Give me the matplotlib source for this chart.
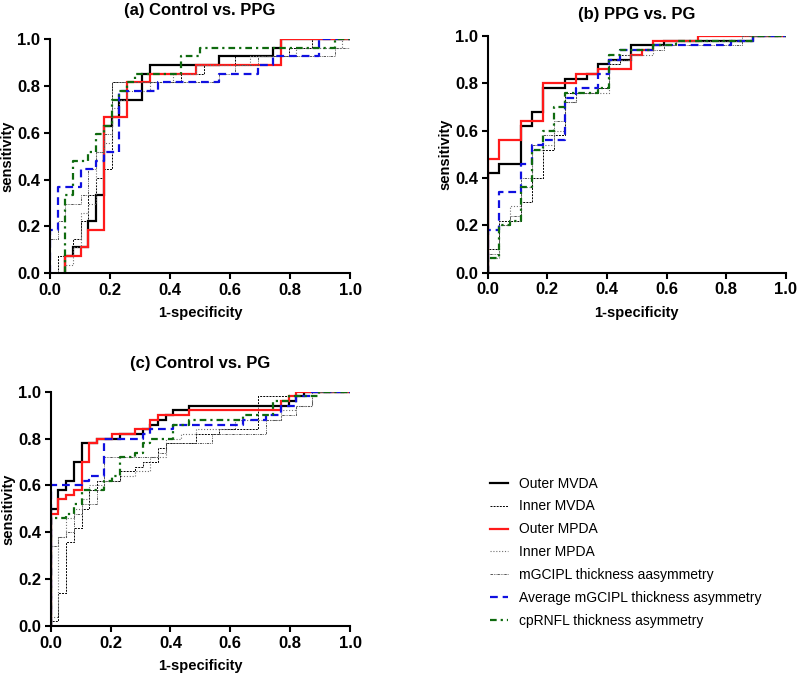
# -*- coding: utf-8 -*-

"""
ROC curves of the vessel density / thickness asymmetry parameters
"""

import matplotlib
matplotlib.use('Agg')
import matplotlib.pyplot as plt


plt.rcParams['font.family'] = ['Liberation Sans', 'DejaVu Sans']

# =============================================================================
# Data (fpr, tpr) staircase vertices
# =============================================================================
LABELS = ['Outer MVDA', 'Inner MVDA', 'Outer MPDA', 'Inner MPDA',
          'mGCIPL thickness aasymmetry', 'Average mGCIPL thickness asymmetry',
          'cpRNFL thickness asymmetry']
TITLES = ['(a) Control vs. PPG', '(b) PPG vs. PG', '(c) Control vs. PG']

# (a) Control vs. PPG
a_outer_mvda = ([0.051, 0.051, 0.077, 0.128, 0.154, 0.179, 0.205, 0.231, 0.308, 0.333, 0.564, 0.744, 0.769, 1.0],
                [0, 0.074, 0.111, 0.222, 0.333, 0.630, 0.667, 0.741, 0.852, 0.889, 0.926, 0.963, 1.0, 1.0])
a_inner_mvda = ([0.026, 0.026, 0.077, 0.103, 0.128, 0.154, 0.179, 0.205, 0.436, 0.513, 0.615, 0.795, 0.872, 1.0],
                [0, 0.074, 0.148, 0.222, 0.333, 0.407, 0.444, 0.815, 0.852, 0.889, 0.926, 0.963, 1.0, 1.0])
a_outer_mpda = ([0.051, 0.051, 0.103, 0.128, 0.179, 0.256, 0.333, 0.487, 0.769, 1.0],
                [0, 0.074, 0.111, 0.185, 0.667, 0.815, 0.852, 0.889, 1.0, 1.0])
a_inner_mpda = ([0.051, 0.051, 0.077, 0.103, 0.128, 0.154, 0.179, 0.205, 0.231, 0.256, 0.333, 0.410, 0.487, 0.667, 0.821, 0.974, 1.0],
                [0, 0.037, 0.111, 0.259, 0.296, 0.519, 0.556, 0.704, 0.741, 0.778, 0.815, 0.852, 0.889, 0.926, 0.963, 1.0, 1.0])
a_mgcipl = ([0, 0, 0.026, 0.051, 0.103, 0.128, 0.154, 0.179, 0.205, 0.564, 0.615, 0.692, 0.949, 1.0],
            [0, 0.148, 0.222, 0.296, 0.333, 0.444, 0.519, 0.593, 0.815, 0.852, 0.889, 0.926, 0.963, 1.0])
a_avg_mgcipl = ([0, 0, 0.026, 0.103, 0.154, 0.179, 0.231, 0.359, 0.564, 0.692, 0.744, 0.897, 1.0],
                [0, 0.185, 0.370, 0.444, 0.481, 0.519, 0.778, 0.815, 0.852, 0.889, 0.926, 1.0, 1.0])
a_cprnfl = ([0.051, 0.051, 0.077, 0.128, 0.154, 0.179, 0.205, 0.231, 0.256, 0.282, 0.436, 0.500, 0.949, 1.0],
            [0, 0.333, 0.481, 0.519, 0.593, 0.630, 0.741, 0.778, 0.815, 0.852, 0.926, 0.963, 1.0, 1.0])

# (b) PPG vs. PG
b_outer_mvda = ([0, 0, 0.037, 0.111, 0.148, 0.185, 0.259, 0.333, 0.370, 0.407, 0.481, 0.593, 0.889, 1.0],
                [0, 0.42, 0.46, 0.62, 0.68, 0.78, 0.82, 0.84, 0.88, 0.90, 0.96, 0.98, 1.0, 1.0])
b_inner_mvda = ([0, 0, 0.037, 0.111, 0.148, 0.185, 0.222, 0.259, 0.370, 0.407, 0.444, 0.481, 0.593, 0.889, 1.0],
                [0, 0.10, 0.22, 0.30, 0.40, 0.52, 0.58, 0.76, 0.78, 0.88, 0.92, 0.96, 0.98, 1.0, 1.0])
b_outer_mpda = ([0, 0, 0.037, 0.111, 0.185, 0.296, 0.370, 0.481, 0.519, 0.556, 0.704, 1.0],
                [0, 0.48, 0.56, 0.64, 0.80, 0.84, 0.86, 0.92, 0.94, 0.98, 1.0, 1.0])
b_inner_mpda = ([0, 0, 0.037, 0.074, 0.111, 0.148, 0.185, 0.222, 0.259, 0.296, 0.407, 0.444, 0.556, 0.630, 0.889, 1.0],
                [0, 0.06, 0.20, 0.28, 0.36, 0.52, 0.54, 0.60, 0.72, 0.76, 0.88, 0.92, 0.96, 0.98, 1.0, 1.0])
b_mgcipl = ([0, 0, 0.037, 0.074, 0.111, 0.148, 0.185, 0.222, 0.259, 0.296, 0.370, 0.407, 0.481, 0.593, 0.852, 1.0],
            [0, 0.08, 0.20, 0.24, 0.40, 0.54, 0.58, 0.64, 0.72, 0.76, 0.78, 0.90, 0.94, 0.96, 1.0, 1.0])
b_avg_mgcipl = ([0, 0, 0.037, 0.111, 0.148, 0.185, 0.259, 0.296, 0.370, 0.407, 0.444, 0.556, 0.815, 0.889, 1.0],
                [0, 0.18, 0.34, 0.46, 0.54, 0.56, 0.74, 0.78, 0.84, 0.90, 0.94, 0.96, 0.98, 1.0, 1.0])
b_cprnfl = ([0, 0, 0.037, 0.074, 0.111, 0.148, 0.185, 0.222, 0.259, 0.370, 0.407, 0.444, 0.556, 0.630, 0.889, 1.0],
            [0, 0.06, 0.20, 0.22, 0.36, 0.52, 0.60, 0.70, 0.76, 0.78, 0.92, 0.94, 0.96, 0.98, 1.0, 1.0])

# (c) Control vs. PG
c_outer_mvda = ([0, 0, 0.026, 0.051, 0.077, 0.103, 0.154, 0.231, 0.308, 0.333, 0.359, 0.385, 0.410, 0.462, 0.795, 0.821, 0.846, 1.0],
                [0, 0.50, 0.58, 0.62, 0.70, 0.78, 0.80, 0.82, 0.84, 0.86, 0.88, 0.90, 0.92, 0.94, 0.96, 0.98, 1.0, 1.0])
c_inner_mvda = ([0, 0, 0.026, 0.051, 0.077, 0.103, 0.128, 0.154, 0.231, 0.282, 0.308, 0.359, 0.385, 0.487, 0.564, 0.692, 0.846, 1.0],
                [0, 0.02, 0.14, 0.36, 0.42, 0.50, 0.58, 0.62, 0.66, 0.68, 0.70, 0.76, 0.78, 0.82, 0.84, 0.98, 1.0, 1.0])
c_outer_mpda = ([0, 0, 0.026, 0.051, 0.077, 0.103, 0.128, 0.154, 0.205, 0.282, 0.333, 0.359, 0.462, 0.769, 0.795, 0.821, 1.0],
                [0, 0.48, 0.54, 0.56, 0.58, 0.70, 0.78, 0.80, 0.82, 0.84, 0.88, 0.90, 0.92, 0.96, 0.98, 1.0, 1.0])
c_inner_mpda = ([0, 0, 0.026, 0.051, 0.077, 0.103, 0.128, 0.179, 0.231, 0.282, 0.333, 0.385, 0.436, 0.487, 0.615, 0.769, 0.821, 0.872, 1.0],
                [0, 0.04, 0.38, 0.46, 0.50, 0.54, 0.60, 0.62, 0.64, 0.66, 0.72, 0.80, 0.82, 0.84, 0.88, 0.92, 0.94, 1.0, 1.0])
c_mgcipl = ([0, 0, 0.026, 0.051, 0.077, 0.103, 0.154, 0.179, 0.359, 0.385, 0.538, 0.718, 0.769, 0.821, 0.872, 1.0],
            [0, 0.34, 0.38, 0.40, 0.48, 0.52, 0.58, 0.72, 0.74, 0.78, 0.82, 0.88, 0.90, 0.94, 1.0, 1.0])
c_avg_mgcipl = ([0, 0, 0.103, 0.128, 0.179, 0.308, 0.333, 0.410, 0.641, 0.718, 0.769, 0.821, 0.872, 1.0],
                [0, 0.60, 0.62, 0.64, 0.80, 0.82, 0.84, 0.86, 0.88, 0.90, 0.94, 0.98, 1.0, 1.0])
c_cprnfl = ([0, 0, 0.051, 0.077, 0.103, 0.179, 0.205, 0.231, 0.282, 0.308, 0.333, 0.410, 0.462, 0.641, 0.744, 0.795, 0.897, 1.0],
            [0, 0.46, 0.48, 0.52, 0.58, 0.62, 0.64, 0.72, 0.74, 0.78, 0.80, 0.86, 0.88, 0.90, 0.96, 0.98, 1.0, 1.0])

PANELS = [
    [a_outer_mvda, a_inner_mvda, a_outer_mpda, a_inner_mpda, a_mgcipl, a_avg_mgcipl, a_cprnfl],
    [b_outer_mvda, b_inner_mvda, b_outer_mpda, b_inner_mpda, b_mgcipl, b_avg_mgcipl, b_cprnfl],
    [c_outer_mvda, c_inner_mvda, c_outer_mpda, c_inner_mpda, c_mgcipl, c_avg_mgcipl, c_cprnfl],
]

# Line styles, in legend order
STYLES = [
    dict(color='black', lw=1.6),
    dict(color='black', lw=0.7, dashes=(2.0, 1.2)),
    dict(color='#ff1a1a', lw=1.6),
    dict(color='#707070', lw=0.8, dashes=(1.0, 1.6)),
    dict(color='#555555', lw=0.7, dashes=(2.5, 1.0, 0.8, 1.0, 0.8, 1.0)),
    dict(color='#1010e0', lw=1.6, dashes=(3.5, 2.2)),
    dict(color='#0e6a0e', lw=1.6, dashes=(3.0, 1.8, 1.0, 1.8)),
]

# Axes positions in figure fraction [left, bottom, width, height]
POSITIONS = [
    [0.0627, 0.5963, 0.3759, 0.3461],
    [0.6112, 0.5972, 0.3735, 0.3496],
    [0.0635, 0.0753, 0.3751, 0.3461],
]
TITLE_PADS = [17, 12, 17]


# =============================================================================
# Figure
# =============================================================================
fig = plt.figure(figsize=(7.98, 6.77), dpi=100)

handles = []
for k, (series, title, pos) in enumerate(zip(PANELS, TITLES, POSITIONS)):
    ax = fig.add_axes(pos)
    for (fpr, tpr), style, label in zip(series, STYLES, LABELS):
        line, = ax.step(fpr, tpr, where='post', label=label,
                        solid_joinstyle='miter', **style)
        if k == 0:
            handles.append(line)

    ax.set_xlim(0, 1)
    ax.set_ylim(0, 1)
    ax.set_xticks([0, 0.2, 0.4, 0.6, 0.8, 1.0])
    ax.set_yticks([0, 0.2, 0.4, 0.6, 0.8, 1.0])
    ax.set_xticklabels(['0.0', '0.2', '0.4', '0.6', '0.8', '1.0'])
    ax.set_yticklabels(['0.0', '0.2', '0.4', '0.6', '0.8', '1.0'])
    for lab in ax.get_xticklabels() + ax.get_yticklabels():
        lab.set_fontweight('bold')
    ax.tick_params(direction='out', length=4, width=1.5, labelsize=12, pad=3)

    ax.spines['top'].set_visible(False)
    ax.spines['right'].set_visible(False)
    ax.spines['left'].set_linewidth(1.5)
    ax.spines['bottom'].set_linewidth(1.5)

    ax.set_xlabel('1-specificity', fontsize=10.5, fontweight='bold', labelpad=6)
    ax.set_ylabel('sensitivity', fontsize=10.5, fontweight='bold', labelpad=2)
    ax.set_title(title, fontsize=12, fontweight='bold', pad=TITLE_PADS[k])

# Legend
fig.legend(handles=handles, labels=LABELS, loc='upper left',
           bbox_to_anchor=(0.614, 0.296), frameon=False, fontsize=10,
           handlelength=1.3, handletextpad=0.8, labelspacing=0.64,
           borderpad=0, borderaxespad=0)

fig.savefig('out.png', dpi=100)
